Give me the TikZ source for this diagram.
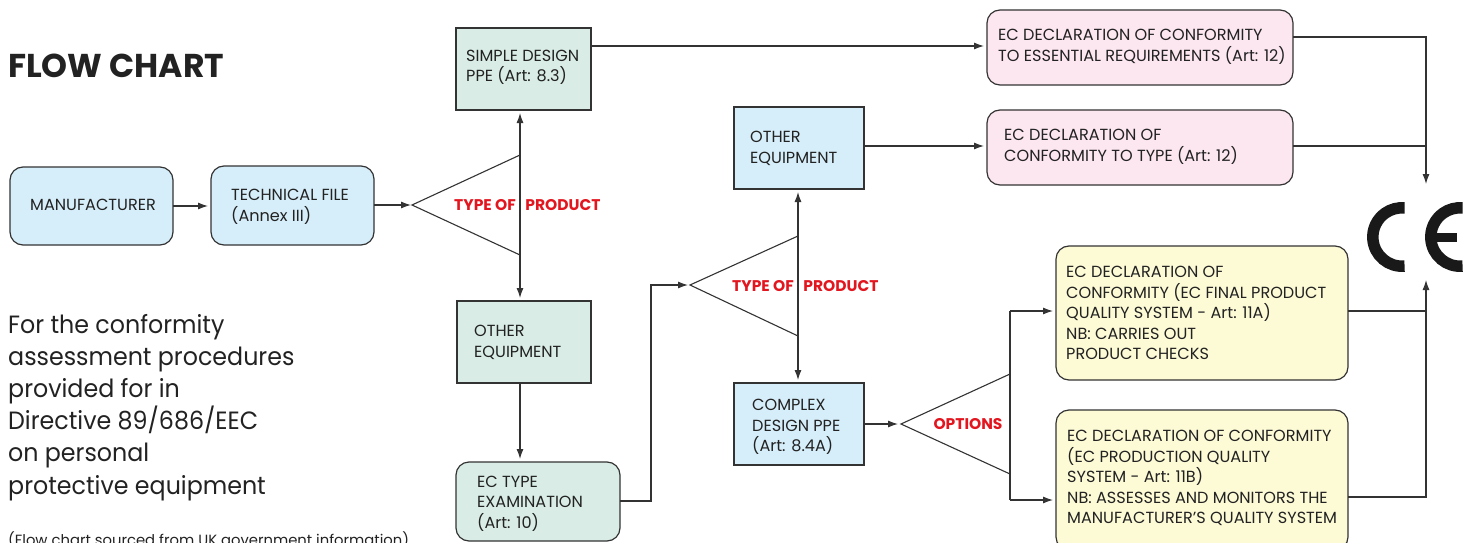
\documentclass[tikz,border=0pt]{standalone}
\usepackage{fontspec}
\setmainfont{Poppins}
\newfontfamily\parafont[FakeStretch=0.95]{Poppins}
\usetikzlibrary{arrows.meta}
\definecolor{ln}{HTML}{333333}
\definecolor{txtc}{HTML}{222222}
\definecolor{bluef}{HTML}{D6EEFA}
\definecolor{greenf}{HTML}{D9EDE6}
\definecolor{pinkf}{HTML}{FCE6F0}
\definecolor{yelf}{HTML}{FDFAD6}
\definecolor{redt}{HTML}{E2161F}
\tikzset{
  x=1pt,y=-1pt,
  boxb/.style={draw=ln,line width=1.2pt,inner sep=0pt,outer sep=0pt,anchor=north west},
  sq/.style={boxb,minimum width=#1},
  rd/.style={boxb,rounded corners=13pt,minimum width=#1},
  lbl/.style={inner sep=0pt,anchor=west,align=left,text=txtc,font=\fontsize{16.1}{20.4}\selectfont},
  redl/.style={inner sep=0pt,text=redt,font=\fontsize{15.5}{18}\selectfont\bfseries},
  para/.style={inner sep=0pt,anchor=west,align=left,text=txtc,font=\parafont\fontsize{25}{32.1}\selectfont},
  wire/.style={draw=ln,line width=1.1pt},
  arr/.style={wire,-{Latex[length=10pt,width=7pt]}},
  tri/.style={draw=ln,line width=1.1pt,line join=miter},
  cemark/.style={draw=black!90,line width=11.5pt},
  cebar/.style={draw=black!90,line width=8.5pt}
}
\begin{document}
\begin{tikzpicture}
\useasboundingbox (0,0) rectangle (1473,543);
\clip (0,0) rectangle (1473,543);
% boxes
\node[rd=163pt,minimum height=78pt,fill=bluef] (m) at (10,167) {};
\node[rd=163pt,minimum height=79pt,fill=bluef] (tf) at (211,166) {};
\node[sq=135pt,minimum height=82pt,fill=greenf] (sd) at (456,28) {};
\node[sq=134pt,minimum height=82pt,fill=greenf] (oel) at (457,301) {};
\node[rd=164pt,minimum height=79pt,fill=greenf] (et) at (456,462) {};
\node[sq=130pt,minimum height=82pt,fill=bluef] (oem) at (734,107) {};
\node[sq=130pt,minimum height=82pt,fill=bluef] (cx) at (734,383) {};
\node[rd=306pt,minimum height=75pt,fill=pinkf] (d1) at (987,10) {};
\node[rd=306pt,minimum height=75pt,fill=pinkf] (d2) at (987,110) {};
\node[rd=292pt,minimum height=134pt,fill=yelf] (y1) at (1056,246) {};
\node[rd=292pt,minimum height=140pt,fill=yelf] (y2) at (1056,410) {};
% box texts
\node[lbl] (tm) at (30,204.5) {MANUFACTURER};
\node[lbl] (ttf) at (231,207) {TECHNICAL FILE\\(Annex III)};
\node[lbl] (tsd) at (466,67.5) {SIMPLE DESIGN\\PPE (Art: 8.3)};
\node[lbl] (toel) at (474,342.5) {OTHER\\EQUIPMENT};
\node[lbl] (tet) at (477,503.5) {EC TYPE\\EXAMINATION\\(Art: 10)};
\node[lbl] (toem) at (750,148.5) {OTHER\\EQUIPMENT};
\node[lbl] (tcx) at (752,427) {COMPLEX\\DESIGN PPE\\(Art: 8.4A)};
\node[lbl] (td1) at (998,47) {EC DECLARATION OF CONFORMITY\\TO ESSENTIAL REQUIREMENTS (Art: 12)};
\node[lbl] (td2) at (1004,147) {EC DECLARATION OF\\CONFORMITY TO TYPE (Art: 12)};
\node[lbl] (ty1) at (1066,313) {EC DECLARATION OF\\CONFORMITY (EC FINAL PRODUCT\\QUALITY SYSTEM - Art: 11A)\\NB: CARRIES OUT\\PRODUCT CHECKS};
\node[lbl] (ty2) at (1067,478) {EC DECLARATION OF CONFORMITY\\(EC PRODUCTION QUALITY\\SYSTEM - Art: 11B)\\NB: ASSESSES AND MONITORS THE\\MANUFACTURER'S QUALITY SYSTEM};
% left texts
\node[inner sep=0pt,anchor=west,text=txtc,font=\fontsize{33}{36}\selectfont\bfseries] (title) at (8,65.5) {FLOW CHART};
\node[para] (intro) at (8,407.5) {For the conformity\\assessment procedures\\provided for in\\Directive 89/686/EEC\\on personal\\protective equipment};
\node[inner sep=0pt,anchor=west,text=txtc,font=\fontsize{14.8}{16}\selectfont] (src) at (8,541) {(Flow chart sourced from UK government information)};
% decision triangles
\coordinate (a1) at (412,205); \coordinate (a1t) at (520,155); \coordinate (a1b) at (520,255);
\coordinate (a2) at (690,285); \coordinate (a2t) at (798,236); \coordinate (a2b) at (798,336);
\coordinate (a3) at (901,424); \coordinate (a3t) at (1010,374); \coordinate (a3b) at (1010,474);
\draw[tri] (a1b) -- (a1) -- (a1t);
\draw[tri] (a2b) -- (a2) -- (a2t);
\draw[tri] (a3b) -- (a3) -- (a3t);
\node[redl] (r1a) at (485,205.5) {TYPE OF};
\node[redl] (r1b) at (563,205.5) {PRODUCT};
\node[redl] (r2a) at (763,286.5) {TYPE OF};
\node[redl] (r2b) at (841,286.5) {PRODUCT};
\node[redl] (r3) at (968,424.5) {OPTIONS};
% connectors
\coordinate (jt) at (1426,146);
\coordinate (cetop) at (1426,184);
\coordinate (cebot) at (1426,280);
\coordinate (j3) at (1010,311);
\coordinate (j3b) at (1010,500);
\draw[arr,shorten >=3pt] (m.east|-0,206) -- (tf.west|-0,206);
\draw[arr,shorten >=1pt] (tf.east|-0,205) -- (a1);
\draw[arr,shorten >=3pt] (a1t) -- (a1t|-sd.south);
\draw[arr,shorten >=3pt] (a1b) -- (a1b|-oel.north);
\draw[wire] (a1t) -- (a1b);
\draw[arr,shorten >=3pt] (sd.east|-0,46) -- (d1.west|-0,46);
\draw[arr,shorten >=3pt] (oem.east|-0,146) -- (d2.west|-0,146);
\draw[arr] (d1.east|-0,37) -| (cetop);
\draw[wire] (d2.east|-jt) -- (jt);
\draw[arr,shorten >=3pt] (oel.south-|a1b) -- (et.north-|a1b);
\draw[arr,shorten >=2pt] (et.east|-0,501) -- (651,501) -- (651,285) -- (a2);
\draw[arr,shorten >=3pt] (a2t) -- (a2t|-oem.south);
\draw[arr,shorten >=3pt] (a2b) -- (a2b|-cx.north);
\draw[wire] (a2t) -- (a2b);
\draw[arr,shorten >=3pt] (cx.east|-a3) -- (a3);
\draw[wire] (j3) -- (j3b);
\draw[arr,shorten >=3pt] (j3) -- (j3-|y1.west);
\draw[arr,shorten >=3pt] (j3b) -- (j3b-|y2.west);
\draw[wire] (y1.east|-0,311) -- (1426,311);
\draw[arr] (y2.east|-0,497) -| (cebot);
% CE mark
\draw[cemark] (1402,237) ++(85:29.2) arc (85:275:29.2);
\draw[cemark] (1460,237) ++(85:29.2) arc (85:275:29.2);
\draw[cebar] (1430,237.5) -- (1457,237.5);
\end{tikzpicture}
\end{document}
